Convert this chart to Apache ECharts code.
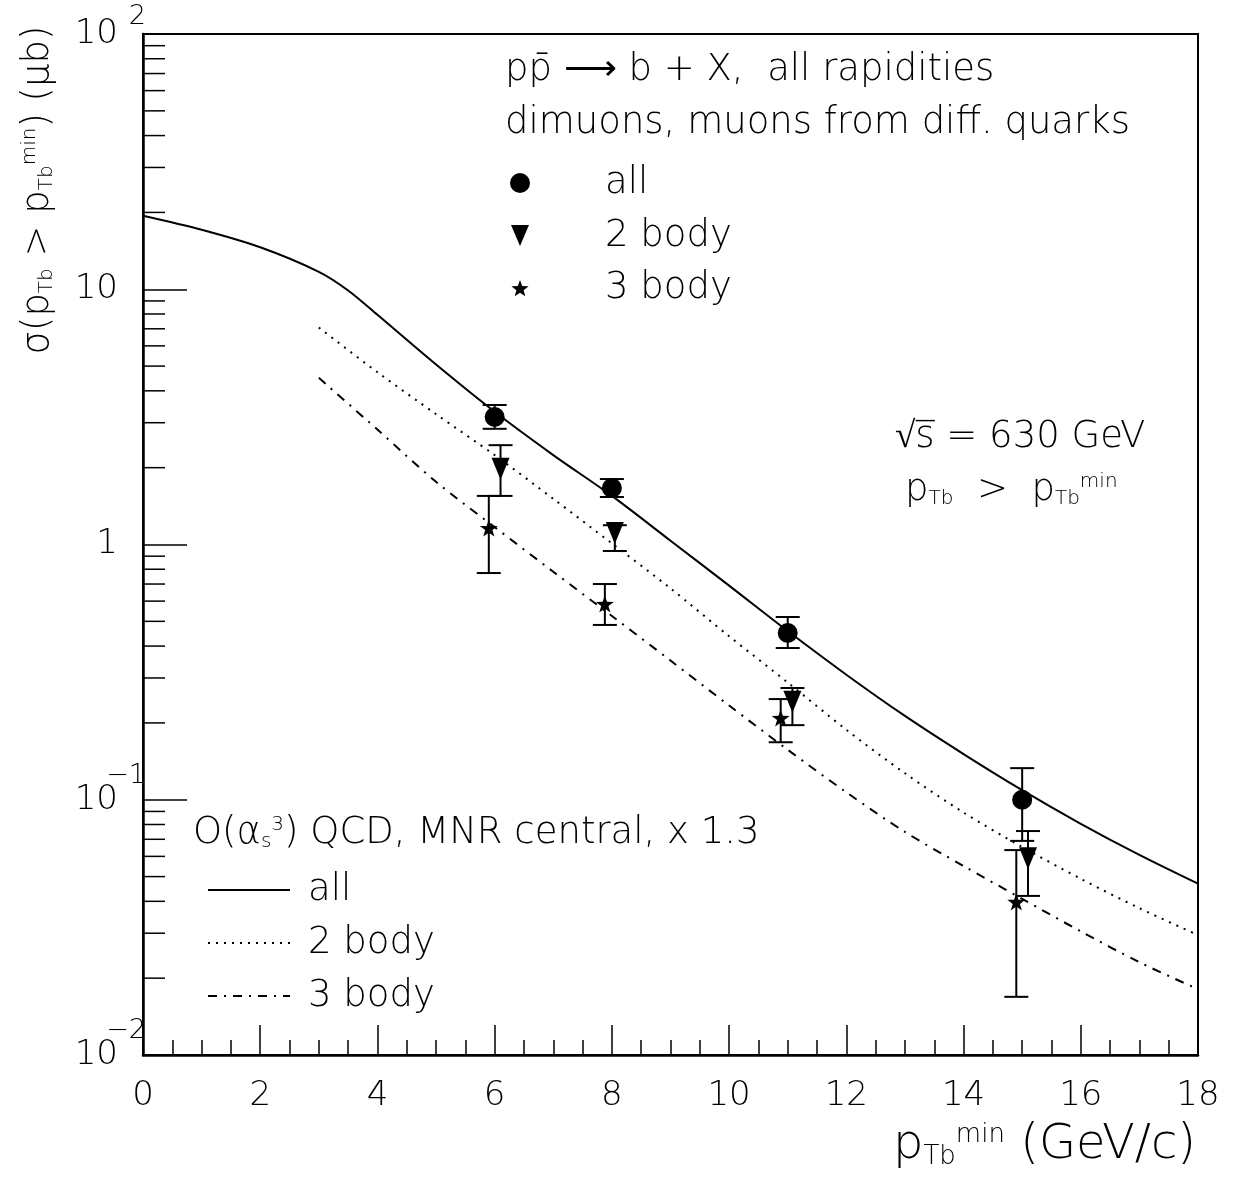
<!DOCTYPE html>
<html>
<head>
<meta charset="utf-8">
<title>b cross section vs pT min</title>
<script src="https://cdn.jsdelivr.net/npm/echarts@6/dist/echarts.min.js"></script>
<style>
  html, body { margin: 0; padding: 0; background: #fff; }
  #chart { width: 1236px; height: 1177px; }
</style>
</head>
<body>
<div id="chart"></div>
<script>
// QCD curves (MNR central x 1.3)
const curveAllX = [0, 1, 2, 3, 3.5, 4, 5, 6, 7, 8, 9, 10, 11, 12, 13, 14, 15, 16, 17, 18];
const curveAllY = [19.4, 17.1, 14.6, 11.7, 9.89, 7.94, 5.07, 3.31, 2.24, 1.55, 1.035, 0.69, 0.458, 0.309, 0.213, 0.151, 0.109, 0.0805, 0.0608, 0.0469];
const curve2X = [3, 4, 5, 6, 7, 8, 9, 10, 11, 12, 13, 14, 15, 16, 17, 18];
const curve2Y = [7.08, 4.73, 3.24, 2.24, 1.51, 1.01, 0.673, 0.437, 0.288, 0.188, 0.127, 0.0891, 0.0653, 0.049, 0.0376, 0.0295];
const curve3X = [3, 4, 5, 6, 7, 8, 9, 10, 11, 12, 13, 14, 15, 16, 17, 18];
const curve3Y = [4.5, 2.82, 1.76, 1.17, 0.782, 0.525, 0.351, 0.234, 0.157, 0.107, 0.0748, 0.055, 0.0409, 0.0305, 0.0231, 0.0181];

// measured points
const allX = [6, 8, 11, 15];
const allY = [3.16, 1.665, 0.45, 0.10];
const allLo = [2.84, 1.535, 0.393, 0.069];
const allHi = [3.52, 1.805, 0.52, 0.133];

const twoX = [6.1, 8.05, 11.08, 15.1];
const twoY = [1.98, 1.11, 0.242, 0.059];
const twoLo = [1.55, 0.943, 0.196, 0.042];
const twoHi = [2.45, 1.19, 0.274, 0.0754];

const threeX = [5.9, 7.88, 10.88, 14.9];
const threeY = [1.16, 0.585, 0.209, 0.0398];
const threeLo = [0.773, 0.484, 0.168, 0.0169];
const threeHi = [1.55, 0.70, 0.248, 0.0635];

// axis ticks
const xTickLabels = [0, 2, 4, 6, 8, 10, 12, 14, 16, 18];
const yMinorTicks = [];
[0.01, 0.1, 1, 10].forEach(d => {
  for (let k = 2; k <= 9; k++) yMinorTicks.push(+(d * k).toPrecision(3));
});

const FONT = 'DejaVu Sans';
const WEIGHT = 200;
const BLACK = '#000';
const STAR = 'path://M0,-10L2.35,-3.24L9.51,-3.09L3.8,1.24L5.88,8.09L0,4L-5.88,8.09L-3.8,1.24L-9.51,-3.09L-2.35,-3.24Z';

const richText = (size) => ({
  n: { fontSize: size, fontFamily: FONT, fontWeight: WEIGHT, color: BLACK },
  sub: { fontSize: Math.round(size * 0.55), fontFamily: FONT, fontWeight: WEIGHT, color: BLACK, verticalAlign: 'bottom' },
  sup: { fontSize: Math.round(size * 0.55), fontFamily: FONT, fontWeight: WEIGHT, color: BLACK, verticalAlign: 'top' }
});

function pairs(xs, ys) {
  return xs.map((x, i) => [x, ys[i]]);
}
function triples(xs, lo, hi) {
  return xs.map((x, i) => [x, lo[i], hi[i]]);
}

// star outline for the legend marker
function starPoints(cx, cy, r) {
  const pts = [];
  for (let i = 0; i < 10; i++) {
    const a = -Math.PI / 2 + i * Math.PI / 5;
    const rr = i % 2 ? r * 0.42 : r;
    pts.push([cx + rr * Math.cos(a), cy + rr * Math.sin(a)]);
  }
  return pts;
}

// vertical error bar with caps
function renderErrorBar(params, api) {
  const x = api.value(0);
  const top = api.coord([x, api.value(2)]);
  const bot = api.coord([x, api.value(1)]);
  const w = 12;
  const style = { stroke: BLACK, lineWidth: 2 };
  return {
    type: 'group',
    children: [
      { type: 'line', shape: { x1: top[0], y1: top[1], x2: bot[0], y2: bot[1] }, style },
      { type: 'line', shape: { x1: top[0] - w, y1: top[1], x2: top[0] + w, y2: top[1] }, style },
      { type: 'line', shape: { x1: bot[0] - w, y1: bot[1], x2: bot[0] + w, y2: bot[1] }, style }
    ]
  };
}

// minor ticks of the log axis at 2..9 x 10^k
function renderMinorTick(params, api) {
  const p = api.coord([0, api.value(1)]);
  return {
    type: 'line',
    shape: { x1: p[0], y1: p[1], x2: p[0] + 22, y2: p[1] },
    style: { stroke: BLACK, lineWidth: 1.5 }
  };
}

// base of the decade label ("1", "10") and its exponent, drawn on two overlaid axes
function decadeBase(v) {
  return Math.round(Math.log10(v)) === 0 ? '1' : '10';
}
function decadeExp(v) {
  const e = Math.round(Math.log10(v));
  if (e === 0 || e === 1) return '';
  return e > 0 ? '{p|' + e + '}' : '{m|\u2212' + (-e) + '}';
}

function plainText(x, y, text, size) {
  return {
    type: 'text', x, y,
    style: { text, fontFamily: FONT, fontWeight: WEIGHT, fontSize: size, fill: BLACK, align: 'left', verticalAlign: 'middle' }
  };
}
function richLabel(x, y, text, size, align) {
  return {
    type: 'text', x, y,
    style: { text, rich: richText(size), align: align || 'left', verticalAlign: 'middle' }
  };
}
function legendLine(y, dash) {
  return {
    type: 'line', shape: { x1: 208, y1: y, x2: 290, y2: y },
    style: { stroke: BLACK, lineWidth: 2, lineDash: dash }
  };
}

const chart = echarts.init(document.getElementById('chart'));

const option = {
  animation: false,
  backgroundColor: '#fff',
  grid: {
    left: 143, right: 38, top: 34, bottom: 122,
    show: true, borderColor: BLACK, borderWidth: 2
  },
  xAxis: {
    type: 'value',
    min: 0, max: 18, interval: 2,
    axisLine: { lineStyle: { color: BLACK, width: 2.5 } },
    axisTick: { inside: true, length: 30, lineStyle: { color: BLACK, width: 1.5 } },
    minorTick: { show: true, splitNumber: 4, length: 15, lineStyle: { color: BLACK, width: 1.5 } },
    splitLine: { show: false },
    axisLabel: {
      color: BLACK, fontFamily: FONT, fontWeight: WEIGHT, fontSize: 34, margin: 24,
      formatter: v => (xTickLabels.includes(v) ? String(v) : '')
    }
  },
  yAxis: [
    {
      type: 'log',
      logBase: 10,
      min: 0.01, max: 100,
      axisLine: { lineStyle: { color: BLACK, width: 2.5 } },
      axisTick: { inside: true, length: 44, lineStyle: { color: BLACK, width: 1.5 } },
      splitLine: { show: false },
      axisLabel: {
        margin: 25, align: 'right',
        color: BLACK, fontFamily: FONT, fontWeight: WEIGHT, fontSize: 34,
        formatter: decadeBase
      }
    },
    {
      type: 'log',
      logBase: 10,
      min: 0.01, max: 100,
      position: 'left',
      axisLine: { show: false },
      axisTick: { show: false },
      splitLine: { show: false },
      axisLabel: {
        margin: -3, align: 'right', verticalAlign: 'bottom',
        formatter: decadeExp,
        rich: {
          p: { fontSize: 27, fontFamily: FONT, fontWeight: WEIGHT, color: BLACK, lineHeight: 34 },
          m: { fontSize: 27, fontFamily: FONT, fontWeight: WEIGHT, color: BLACK, lineHeight: 48 }
        }
      }
    }
  ],
  graphic: [
    {
      type: 'text', x: 38, y: 190, rotation: Math.PI / 2,
      style: {
        text: '{n|\u03c3(p}{sub|Tb}{n| > p}{sub|Tb}{sup|min}{n|) (\u03bcb)}',
        rich: richText(37), align: 'center', verticalAlign: 'middle'
      }
    },
    richLabel(1196, 1146, '{n|p}{sub|Tb}{sup|min}{n| (GeV/c)}', 48, 'right'),
    plainText(505, 70, 'pp\u0304 \u27f6 b + X,  all rapidities', 37),
    plainText(505, 123, 'dimuons, muons from diff. quarks', 37),
    // marker legend
    { type: 'circle', shape: { cx: 520, cy: 183, r: 10 }, style: { fill: BLACK } },
    { type: 'polygon', shape: { points: [[511, 225], [529, 225], [520, 246]] }, style: { fill: BLACK } },
    { type: 'polygon', shape: { points: starPoints(520, 289, 9) }, style: { fill: BLACK } },
    plainText(605, 183, 'all', 37),
    plainText(605, 236, '2 body', 37),
    plainText(605, 288, '3 body', 37),
    plainText(895, 437, '\u221as\u0305 = 630 GeV', 37),
    richLabel(905, 490, '{n|p}{sub|Tb}{n|  >  p}{sub|Tb}{sup|min}', 37),
    // curve legend
    richLabel(193, 833, '{n|O(\u03b1}{sub|s}{sup|3}{n|) QCD, MNR central, x 1.3}', 37),
    legendLine(890, null),
    legendLine(943, [2, 6]),
    legendLine(996, [9, 7, 2, 7]),
    plainText(308, 890, 'all', 37),
    plainText(308, 943, '2 body', 37),
    plainText(308, 996, '3 body', 37)
  ],
  series: [
    {
      name: 'minor ticks', type: 'custom', renderItem: renderMinorTick,
      data: yMinorTicks.map(v => [0, v]), silent: true, clip: false, z: 1
    },
    {
      name: 'QCD all', type: 'line', data: pairs(curveAllX, curveAllY),
      smooth: 0.3, symbol: 'none', color: BLACK,
      lineStyle: { color: BLACK, width: 2, type: 'solid' }, z: 2
    },
    {
      name: 'QCD 2 body', type: 'line', data: pairs(curve2X, curve2Y),
      smooth: 0.3, symbol: 'none', color: BLACK,
      lineStyle: { color: BLACK, width: 2, type: [2, 6] }, z: 2
    },
    {
      name: 'QCD 3 body', type: 'line', data: pairs(curve3X, curve3Y),
      smooth: 0.3, symbol: 'none', color: BLACK,
      lineStyle: { color: BLACK, width: 2, type: [9, 7, 2, 7] }, z: 2
    },
    {
      name: 'err all', type: 'custom', renderItem: renderErrorBar,
      encode: { x: 0, y: [1, 2] }, data: triples(allX, allLo, allHi), z: 3
    },
    {
      name: 'err 2 body', type: 'custom', renderItem: renderErrorBar,
      encode: { x: 0, y: [1, 2] }, data: triples(twoX, twoLo, twoHi), z: 3
    },
    {
      name: 'err 3 body', type: 'custom', renderItem: renderErrorBar,
      encode: { x: 0, y: [1, 2] }, data: triples(threeX, threeLo, threeHi), z: 3
    },
    {
      name: 'data all', type: 'scatter', data: pairs(allX, allY),
      symbol: 'circle', symbolSize: 20, itemStyle: { color: BLACK, opacity: 1 }, z: 4
    },
    {
      name: 'data 2 body', type: 'scatter', data: pairs(twoX, twoY),
      symbol: 'triangle', symbolRotate: 180, symbolSize: [18, 22], itemStyle: { color: BLACK, opacity: 1 }, z: 4
    },
    {
      name: 'data 3 body', type: 'scatter', data: pairs(threeX, threeY),
      symbol: STAR, symbolKeepAspect: true, symbolSize: 18, itemStyle: { color: BLACK, opacity: 1 }, z: 4
    }
  ]
};

chart.setOption(option);
window.addEventListener('resize', () => chart.resize());
</script>
</body>
</html>
